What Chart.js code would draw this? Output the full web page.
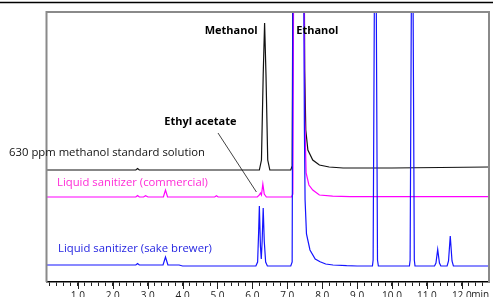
<!DOCTYPE html>
<html lang="en">
<head>
<meta charset="UTF-8">
<title>GC chromatogram - methanol in liquid sanitizer</title>
<script src="https://cdn.jsdelivr.net/npm/chart.js"></script>
<style>
  html, body { margin: 0; padding: 0; background: #fff; }
  #wrap { width: 493px; height: 297px; position: relative; }
</style>
</head>
<body>
<div id="wrap"><canvas id="gcChart"></canvas></div>
<script>
// retention time (min) / detector signal
const blackTime   = [0.10, 2.66, 2.71, 2.76, 6.20, 6.26, 6.31, 6.35, 6.39, 6.44, 6.50,
                     7.10, 7.14, 7.17, 7.47, 7.50, 7.53, 7.59, 7.73, 7.92, 8.20, 8.60, 10.0, 12.78];
const blackSignal = [0, 0, 1.5, 0, 0, 10, 95, 147, 95, 10, 0,
                     0, 4, 300, 300, 100, 40, 20, 10, 5, 3, 2, 2, 3];

const magentaTime   = [0.10, 2.66, 2.71, 2.76, 2.88, 2.94, 3.01, 3.45, 3.51, 3.57, 4.92, 4.97, 5.02,
                       6.14, 6.20, 6.23, 6.26, 6.30, 6.34, 6.40,
                       7.12, 7.16, 7.19, 7.47, 7.50, 7.54, 7.62, 7.73, 7.92, 8.30, 8.80, 12.78];
const magentaSignal = [0, 0, 1.5, 0, 0, 1.2, 0, 0, 7, 0, 0, 1.2, 0,
                       0, 2, 4, 2, 13, 3, 0,
                       0, 3, 300, 300, 80, 24, 12, 7, 2, 0.8, 0.3, 0.3];

const blueTime   = [0.10, 2.66, 2.71, 2.76, 3.44, 3.51, 3.58, 3.90, 4.00,
                    6.10, 6.15, 6.18, 6.20, 6.23, 6.255, 6.28, 6.31, 6.34, 6.38, 6.43,
                    7.10, 7.14, 7.17, 7.46, 7.49, 7.51, 7.55, 7.65, 7.80, 7.94, 8.10, 8.31, 8.70, 9.00,
                    9.44, 9.46, 9.50, 9.545, 9.585, 9.61,
                    10.50, 10.52, 10.56, 10.60, 10.64, 10.66,
                    11.22, 11.26, 11.31, 11.36, 11.40,
                    11.58, 11.62, 11.67, 11.72, 11.76, 12.78];
const blueSignal = [1, 1, 2.5, 1, 1, 9, 1, 1, 0,
                    0, 4, 35, 60, 20, 7, 25, 58, 25, 4, 0,
                    0, 4, 400, 400, 140, 66, 32, 16, 7, 4.3, 2, 1, 0.3, 0,
                    0, 6, 300, 300, 6, 0,
                    0, 6, 300, 300, 6, 0,
                    0, 3, 16.5, 3, 0,
                    0, 5, 30, 5, 0, 0];

// vertical stacking of the three traces
const blackOffset = 112;
const magentaOffset = 85;
const blueOffset = 16;

const majorTicks = [1, 2, 3, 4, 5, 6, 7, 8, 9, 10, 11, 12];
const majorLabels = ['1.0', '2.0', '3.0', '4.0', '5.0', '6.0', '7.0', '8.0', '9.0', '10.0', '11.0', '12.0'];
const minorTicks = [];
for (let k = 1; k <= 63; k++) minorTicks.push(Math.round(k * 2) / 10);

const methanolTime = 6.35;
const ethanolTime = 7.17;
const ethylAcetateTime = 6.23;

function trace(times, signals, offset) {
    return times.map((t, i) => ({ x: t, y: signals[i] + offset }));
}

const FONT = '"Open Sans", "Noto Sans", sans-serif';

const decor = {
    id: 'decor',
    beforeDraw(chart) {
        const ctx = chart.ctx;
        ctx.save();
        ctx.strokeStyle = '#000';
        ctx.lineWidth = 1.3;
        ctx.beginPath();
        ctx.moveTo(0, 2.5);
        ctx.lineTo(chart.width, 2.5);
        ctx.stroke();
        ctx.restore();
    },
    afterDatasetsDraw(chart) {
        const ctx = chart.ctx;
        const a = chart.chartArea;
        const xs = chart.scales.x, ys = chart.scales.y;
        ctx.save();
        // gray frame
        ctx.strokeStyle = '#8a8a8a';
        ctx.lineWidth = 2;
        ctx.beginPath();
        ctx.moveTo(a.left - 0.5, a.bottom);
        ctx.lineTo(a.left - 0.5, a.top);
        ctx.lineTo(a.right, a.top);
        ctx.lineTo(a.right, a.bottom);
        ctx.stroke();

        // peak names
        ctx.fillStyle = '#000';
        ctx.font = 'bold 11px ' + FONT;
        ctx.textBaseline = 'middle';
        ctx.textAlign = 'right';
        ctx.fillText('Methanol', xs.getPixelForValue(methanolTime) - 7, a.top + 19);
        ctx.textAlign = 'left';
        ctx.fillText('Ethanol', xs.getPixelForValue(ethanolTime) + 3, a.top + 19);
        ctx.textAlign = 'right';
        const eaX = xs.getPixelForValue(ethylAcetateTime);
        ctx.fillText('Ethyl acetate', eaX - 24, 122);

        // leader to ethyl acetate
        ctx.strokeStyle = '#111';
        ctx.lineWidth = 0.8;
        ctx.beginPath();
        ctx.moveTo(218, 133);
        ctx.lineTo(eaX - 4, ys.getPixelForValue(magentaOffset + 5));
        ctx.stroke();

        // sample names
        ctx.font = '11.3px ' + FONT;
        ctx.textAlign = 'right';
        ctx.fillStyle = '#111';
        ctx.fillText('630 ppm methanol standard solution', 205, ys.getPixelForValue(blackOffset) - 17);
        ctx.textAlign = 'left';
        ctx.fillStyle = '#ff2bd6';
        ctx.fillText('Liquid sanitizer (commercial)', 57, ys.getPixelForValue(magentaOffset) - 14);
        ctx.fillStyle = '#1f1fe0';
        ctx.fillText('Liquid sanitizer (sake brewer)', 58, ys.getPixelForValue(blueOffset) - 17);
        ctx.restore();
    },
    afterDraw(chart) {
        const ctx = chart.ctx;
        const a = chart.chartArea;
        const xs = chart.scales.x;
        ctx.save();
        // longer marks on the whole minutes
        ctx.strokeStyle = '#222';
        ctx.lineWidth = 1;
        majorTicks.forEach(v => {
            const px = Math.round(xs.getPixelForValue(v)) + 0.5;
            ctx.beginPath();
            ctx.moveTo(px, a.bottom);
            ctx.lineTo(px, a.bottom + 7);
            ctx.stroke();
        });
        // unit after the last label
        ctx.fillStyle = '#222';
        ctx.font = '10px ' + FONT;
        ctx.textAlign = 'left';
        ctx.textBaseline = 'top';
        ctx.fillText('min', xs.getPixelForValue(12) + 9.5, a.bottom + 8);
        ctx.restore();
    }
};

const ctx = document.getElementById('gcChart').getContext('2d');
const gcChart = new Chart(ctx, {
    type: 'line',
    data: {
        datasets: [
            {
                label: 'Liquid sanitizer (sake brewer)',
                data: trace(blueTime, blueSignal, blueOffset),
                borderColor: '#1414ff',
                borderWidth: 1.2
            },
            {
                label: 'Liquid sanitizer (commercial)',
                data: trace(magentaTime, magentaSignal, magentaOffset),
                borderColor: '#ff00ff',
                borderWidth: 1.2
            },
            {
                label: '630 ppm methanol standard solution',
                data: trace(blackTime, blackSignal, blackOffset),
                borderColor: '#111',
                borderWidth: 1.2
            }
        ]
    },
    options: {
        responsive: true,
        maintainAspectRatio: false,
        animation: false,
        layout: { padding: { left: 47, right: 4, top: 12, bottom: 0 } },
        elements: {
            point: { radius: 0 },
            line: { tension: 0, fill: false }
        },
        plugins: {
            legend: { display: false },
            tooltip: { enabled: false }
        },
        scales: {
            x: {
                type: 'linear',
                min: 0.115,
                max: 12.78,
                afterBuildTicks(scale) {
                    scale.ticks = minorTicks.map(v => ({ value: v }));
                },
                afterFit(scale) { scale.height = 15; },
                border: { display: true, color: '#000', width: 1.5 },
                grid: {
                    display: true,
                    drawOnChartArea: false,
                    drawTicks: true,
                    tickLength: 4,
                    tickColor: '#222',
                    tickWidth: 1
                },
                ticks: {
                    autoSkip: false,
                    maxRotation: 0,
                    padding: 4,
                    color: '#222',
                    font: { family: FONT, size: 10 },
                    callback(value) {
                        const i = majorTicks.indexOf(Math.round(value * 10) / 10);
                        return i >= 0 ? majorLabels[i] : '';
                    }
                }
            },
            y: {
                display: false,
                min: 0,
                max: 270
            }
        }
    },
    plugins: [decor]
});
</script>
</body>
</html>
